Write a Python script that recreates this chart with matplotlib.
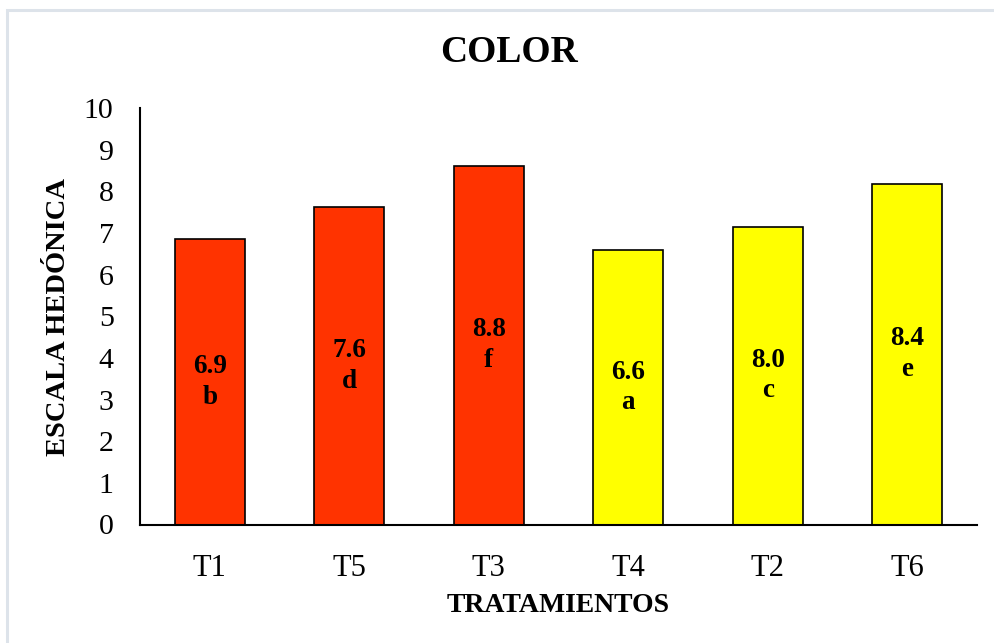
import matplotlib
matplotlib.use("Agg")
import matplotlib.pyplot as plt
from matplotlib.patches import Rectangle

categories = ["T1", "T5", "T3", "T4", "T2", "T6"]
values = [6.85, 7.62, 8.61, 6.58, 7.15, 8.18]
value_labels = ["6.9", "7.6", "8.8", "6.6", "8.0", "8.4"]
letters = ["b", "d", "f", "a", "c", "e"]
colors = ["#FF3300", "#FF3300", "#FF3300", "#FFFF00", "#FFFF00", "#FFFF00"]
yticks = [0, 1, 2, 3, 4, 5, 6, 7, 8, 9, 10]

plt.rcParams['font.family'] = ['Liberation Serif', 'DejaVu Serif']

fig = plt.figure(figsize=(9.94, 6.43), dpi=100)
fig.patch.set_facecolor("white")
# outer chart border (only top/left visible)
fig.patches.append(Rectangle((7 / 994, -0.1), 1.2, 1 - 10 / 643 + 0.1,
                             transform=fig.transFigure, fill=False,
                             edgecolor="#DDE3EA", linewidth=2.2))

ax = fig.add_axes([140 / 994, 1 - 524.5 / 643, (977 - 140) / 994, (524.5 - 108) / 643])
x = list(range(len(categories)))
bars = ax.bar(x, values, width=0.5, color=colors, edgecolor="black", linewidth=1.2, zorder=2)

for xi, v, lab, let in zip(x, values, value_labels, letters):
    ax.text(xi, v / 2, f"{lab}\n{let}", ha="center", va="center",
            fontsize=19.5, fontweight="bold", linespacing=1.3, zorder=3)

ax.set_xlim(-0.5, len(categories) - 0.5)
ax.set_ylim(0, 10)
ax.set_yticks(yticks)
ax.set_yticklabels([str(t) for t in yticks], fontsize=21.5)
ax.set_xticks(x)
ax.set_xticklabels(categories, fontsize=22)
ax.tick_params(axis="y", length=0, pad=19)
ax.tick_params(axis="x", length=0, pad=21)
for s in ["top", "right"]:
    ax.spines[s].set_visible(False)
for s in ["left", "bottom"]:
    ax.spines[s].set_linewidth(1.5)
    ax.spines[s].set_color("black")

fig.text(509 / 994, 1 - 52 / 643, "COLOR", ha="center", va="center",
         fontsize=27, fontweight="bold")
fig.text(558 / 994, 1 - 605 / 643, "TRATAMIENTOS", ha="center", va="center",
         fontsize=20, fontweight="bold")
fig.text(59 / 994, 1 - 317 / 643, "ESCALA HEDÓNICA", ha="center", va="center",
         rotation=90, fontsize=20.5, fontweight="bold")

fig.savefig("out.png", dpi=100)
